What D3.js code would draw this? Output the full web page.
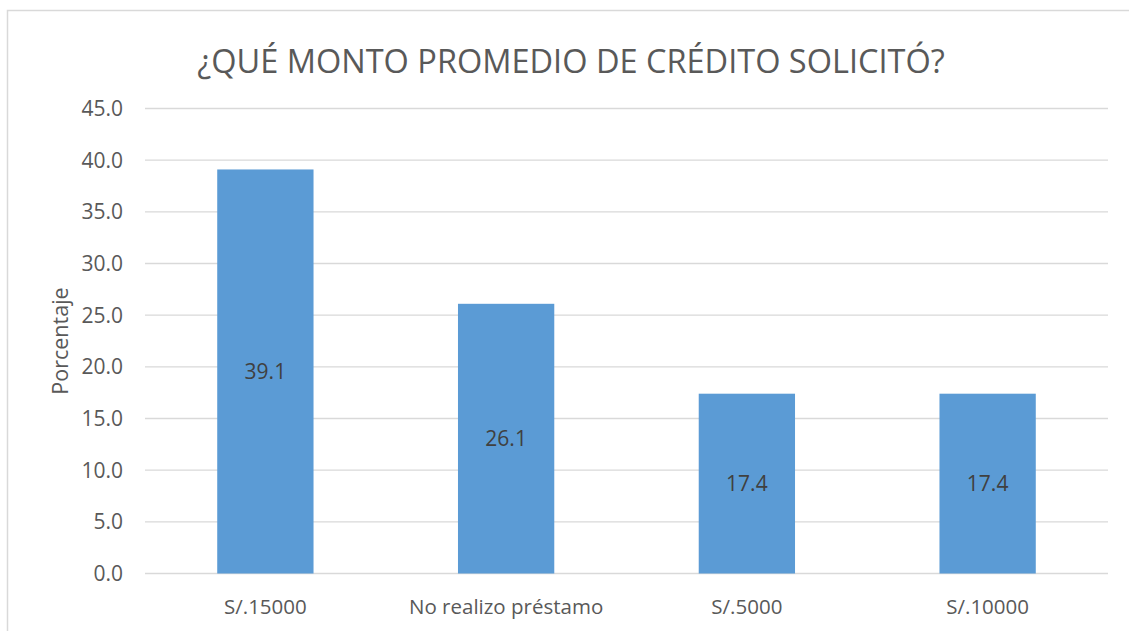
<!DOCTYPE html>
<html>
<head>
<meta charset="utf-8">
<script src="https://cdn.jsdelivr.net/npm/d3@7"></script>
<style>
  body { margin: 0; background: #fff; }
  svg text { font-family: "Open Sans", "Noto Sans", sans-serif; }
</style>
</head>
<body>
<div id="chart"></div>
<script>
const width = 1129;
const height = 631;

const categories = ["S/.15000", "No realizo préstamo", "S/.5000", "S/.10000"];
const values = [39.1, 26.1, 17.4, 17.4];
const yTicks = [0, 5, 10, 15, 20, 25, 30, 35, 40, 45];

const margin = { left: 145, right: 21, top: 108.5, bottom: 57.5 };

const svg = d3.select("#chart")
    .append("svg")
    .attr("width", width)
    .attr("height", height);

// chart frame
svg.append("rect")
    .attr("x", 7.5).attr("y", 10.5)
    .attr("width", 1140).attr("height", 640)
    .attr("fill", "none")
    .attr("stroke", "#d9d9d9")
    .attr("stroke-width", 1.5);

const x = d3.scaleBand()
    .domain(categories)
    .range([margin.left, width - margin.right])
    .paddingInner(0.6)
    .paddingOuter(0.3);

const y = d3.scaleLinear()
    .domain([0, 45])
    .range([height - margin.bottom, margin.top]);

// gridlines
svg.append("g")
    .selectAll("line")
    .data(yTicks)
    .enter()
    .append("line")
    .attr("x1", margin.left)
    .attr("x2", width - margin.right)
    .attr("y1", d => y(d))
    .attr("y2", d => y(d))
    .attr("stroke", "#d9d9d9")
    .attr("stroke-width", 1.3);

// y tick labels
svg.append("g")
    .selectAll("text")
    .data(yTicks)
    .enter()
    .append("text")
    .attr("x", margin.left - 22)
    .attr("y", d => y(d))
    .attr("dy", "0.35em")
    .attr("text-anchor", "end")
    .attr("font-size", 21)
    .attr("fill", "#595959")
    .text(d => d.toFixed(1));

// bars
svg.append("g")
    .selectAll("rect")
    .data(values)
    .enter()
    .append("rect")
    .attr("x", (d, i) => x(categories[i]))
    .attr("width", x.bandwidth())
    .attr("y", d => y(d))
    .attr("height", d => y(0) - y(d))
    .attr("fill", "#5b9bd5");

// data labels, centered in bars
svg.append("g")
    .selectAll("text")
    .data(values)
    .enter()
    .append("text")
    .attr("x", (d, i) => x(categories[i]) + x.bandwidth() / 2)
    .attr("y", d => (y(d) + y(0)) / 2)
    .attr("dy", "0.35em")
    .attr("text-anchor", "middle")
    .attr("font-size", 21)
    .attr("fill", "#404040")
    .text(d => d.toFixed(1));

// x category labels
svg.append("g")
    .selectAll("text")
    .data(categories)
    .enter()
    .append("text")
    .attr("x", d => x(d) + x.bandwidth() / 2)
    .attr("y", y(0) + 33)
    .attr("dy", "0.35em")
    .attr("text-anchor", "middle")
    .attr("font-size", 20.5)
    .attr("fill", "#595959")
    .text(d => d);

// axis title
svg.append("text")
    .attr("transform", `translate(60, ${(y(0) + y(45)) / 2}) rotate(-90)`)
    .attr("text-anchor", "middle")
    .attr("dy", "0.35em")
    .attr("font-size", 21.5)
    .attr("fill", "#595959")
    .text("Porcentaje");

// chart title
svg.append("text")
    .attr("x", 571)
    .attr("y", 62)
    .attr("dy", "0.35em")
    .attr("text-anchor", "middle")
    .attr("font-size", 32.5)
    .attr("fill", "#595959")
    .text("¿QUÉ MONTO PROMEDIO DE CRÉDITO SOLICITÓ?");
</script>
</body>
</html>
